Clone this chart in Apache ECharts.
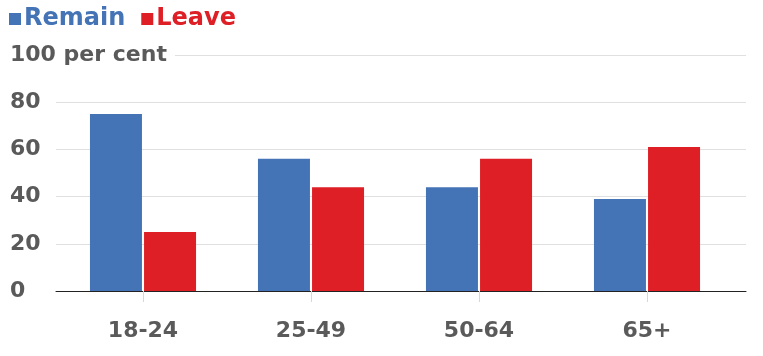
<!DOCTYPE html>
<html><head><meta charset="utf-8">
<script src="https://cdn.jsdelivr.net/npm/echarts@6/dist/echarts.min.js"></script>
<style>html,body{margin:0;padding:0;background:#fff}#c{width:763px;height:356px}</style>
</head><body><div id="c"></div>
<script>
const categories = ['18-24', '25-49', '50-64', '65+'];
const remain = [75, 56, 44, 39];
const leave = [25, 44, 56, 61];
const yTicks = [0, 20, 40, 60, 80, 100];

const FONT = 'DejaVu Sans';
const GREY = '#5a5a5a';
const BLUE = '#4473b6';
const RED = '#de1f26';

const chart = echarts.init(document.getElementById('c'));
chart.setOption({
  animation: false,
  legend: {
    left: 4, top: 2, itemWidth: 12, itemHeight: 12, itemGap: 16,
    icon: 'rect',
    textStyle: { fontFamily: FONT, fontWeight: 'bold', fontSize: 24, padding: [0, 0, 0, -2] },
    data: [
      { name: 'Remain', textStyle: { color: BLUE } },
      { name: 'Leave', textStyle: { color: RED } }
    ]
  },
  grid: [
    { left: 56, right: 17, top: 55, bottom: 65 },
    { left: 59, right: 32, top: 55, bottom: 65 }
  ],
  xAxis: [
    { gridIndex: 0, type: 'value', min: 0, max: 1, show: true,
      axisLine: { show: true, onZero: false, lineStyle: { color: '#222', width: 1 } },
      axisTick: { show: false }, axisLabel: { show: false }, splitLine: { show: false } },
    { gridIndex: 1, type: 'category', data: categories, offset: 9,
      axisLine: { show: false },
      axisTick: { show: true, alignWithLabel: true, length: 11, inside: false, lineStyle: { color: '#d8d8d8' } },
      axisLabel: { margin: 20, color: GREY, fontFamily: FONT, fontWeight: 'bold', fontSize: 22 } }
  ],
  yAxis: [
    { gridIndex: 0, type: 'value', min: 0, max: 100, interval: 20,
      axisLine: { show: false }, axisTick: { show: false },
      splitLine: { lineStyle: { color: '#e0e0e0', width: 1 } },
      axisLabel: {
        align: 'left', margin: 46,
        formatter: v => v === 100 ? '{a|100 per cent}' : String(v),
        color: GREY, fontFamily: FONT, fontWeight: 'bold', fontSize: 22,
        rich: { a: { color: GREY, fontFamily: FONT, fontWeight: 'bold', fontSize: 22, backgroundColor: '#fff', padding: [0, 8, 0, 0] } }
      } },
    { gridIndex: 1, type: 'value', min: 0, max: 100, interval: 20, show: false }
  ],
  series: [
    { name: 'Remain', type: 'bar', xAxisIndex: 1, yAxisIndex: 1, data: remain,
      barWidth: 52, barGap: '4%', itemStyle: { color: BLUE } },
    { name: 'Leave', type: 'bar', xAxisIndex: 1, yAxisIndex: 1, data: leave,
      barWidth: 52, barGap: '4%', itemStyle: { color: RED } }
  ]
});
</script></body></html>
